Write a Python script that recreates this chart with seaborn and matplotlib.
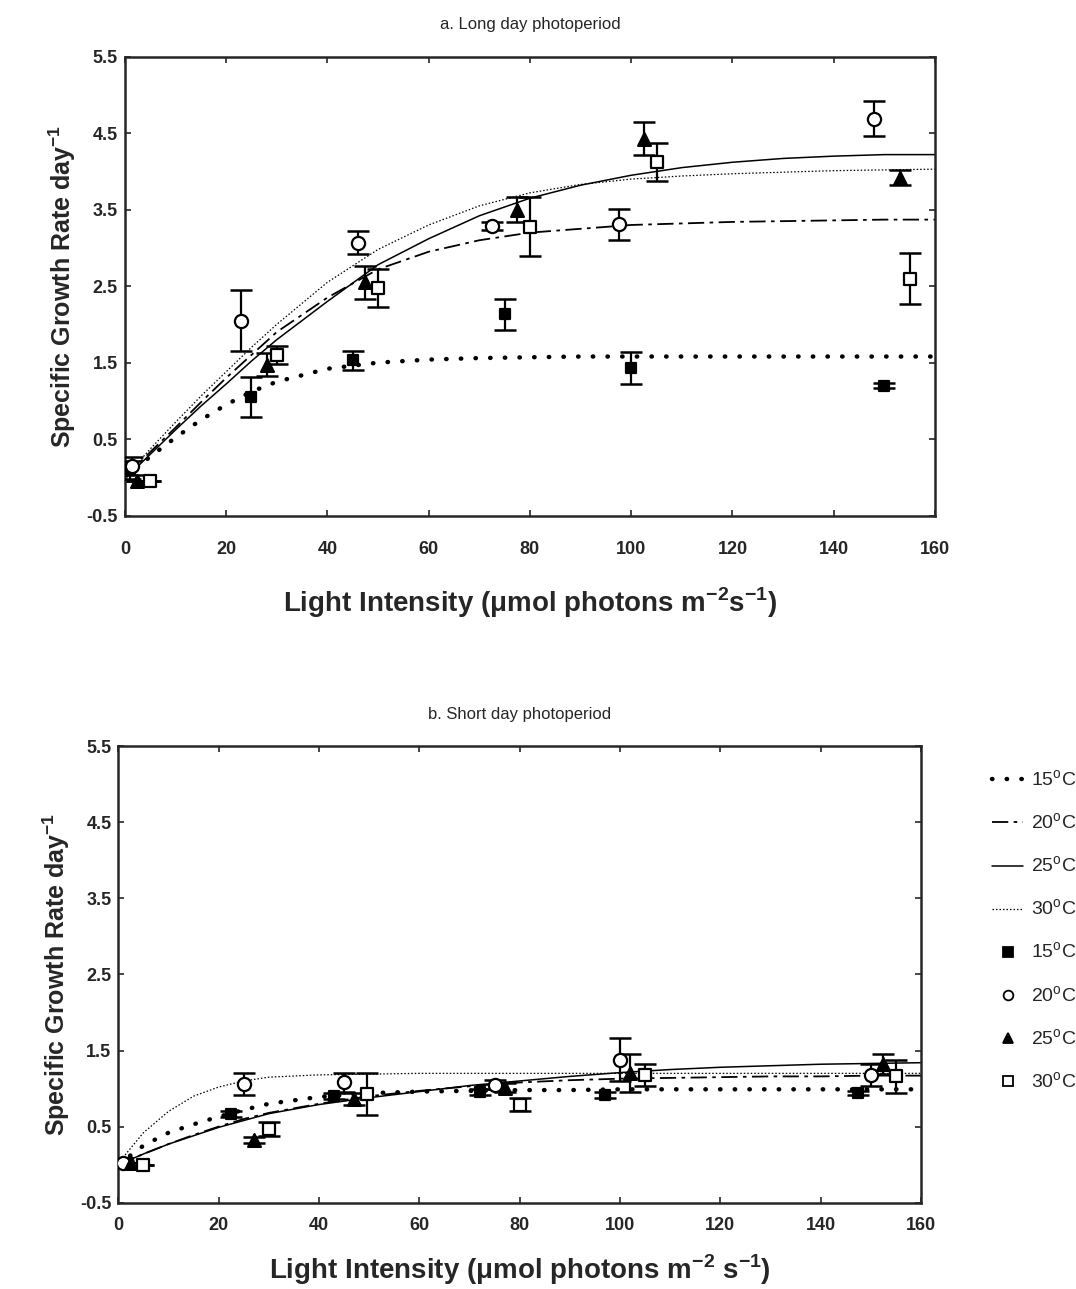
import numpy as np
import pandas as pd
import seaborn as sns
import matplotlib.pyplot as plt
from matplotlib.lines import Line2D

curve_x = [0, 5, 10, 15, 20, 25, 30, 40, 50, 60, 70, 80, 90, 100, 110, 120, 130, 140, 150, 160]

# a. long day - fitted curves
long_fit_15 = [0.0, 0.27, 0.52, 0.75, 0.95, 1.12, 1.25, 1.42, 1.50, 1.54, 1.56, 1.57, 1.58, 1.58, 1.58, 1.58, 1.58, 1.58, 1.58, 1.58]
long_fit_20 = [0.0, 0.33, 0.65, 0.98, 1.30, 1.60, 1.90, 2.35, 2.72, 2.95, 3.10, 3.20, 3.25, 3.30, 3.32, 3.34, 3.35, 3.36, 3.37, 3.37]
long_fit_25 = [-0.02, 0.30, 0.62, 0.93, 1.22, 1.52, 1.80, 2.30, 2.78, 3.12, 3.42, 3.65, 3.82, 3.95, 4.05, 4.12, 4.17, 4.20, 4.22, 4.22]
long_fit_30 = [0.0, 0.37, 0.72, 1.06, 1.38, 1.70, 2.00, 2.55, 2.98, 3.30, 3.55, 3.72, 3.83, 3.90, 3.94, 3.97, 3.99, 4.01, 4.02, 4.03]

# a. long day - measured points (x, mean, error)
long_x_15 = [1, 25, 45, 75, 100, 150]
long_y_15 = [0.10, 1.05, 1.53, 2.13, 1.43, 1.20]
long_e_15 = [0.12, 0.26, 0.12, 0.20, 0.21, 0.03]
long_x_20 = [1.5, 23, 46, 72.5, 97.5, 148]
long_y_20 = [0.15, 2.05, 3.07, 3.29, 3.31, 4.69]
long_e_20 = [0.12, 0.40, 0.15, 0.05, 0.20, 0.23]
long_x_25 = [2.5, 28, 47.5, 77.5, 102.5, 153]
long_y_25 = [-0.05, 1.47, 2.55, 3.50, 4.43, 3.92]
long_e_25 = [0.0, 0.15, 0.22, 0.16, 0.22, 0.10]
long_x_30 = [5, 30, 50, 80, 105, 155]
long_y_30 = [-0.05, 1.60, 2.48, 3.28, 4.12, 2.60]
long_e_30 = [0.0, 0.12, 0.25, 0.38, 0.25, 0.33]

# b. short day - fitted curves
short_fit_15 = [0.0, 0.25, 0.42, 0.53, 0.63, 0.72, 0.80, 0.89, 0.94, 0.96, 0.97, 0.98, 0.98, 0.99, 0.99, 0.99, 0.99, 0.99, 0.99, 0.99]
short_fit_20 = [0.0, 0.14, 0.27, 0.39, 0.50, 0.60, 0.68, 0.80, 0.90, 0.97, 1.03, 1.08, 1.11, 1.13, 1.14, 1.15, 1.16, 1.16, 1.17, 1.17]
short_fit_25 = [0.0, 0.14, 0.27, 0.38, 0.49, 0.58, 0.67, 0.79, 0.88, 0.96, 1.04, 1.10, 1.16, 1.21, 1.25, 1.28, 1.30, 1.32, 1.33, 1.34]
short_fit_30 = [0.02, 0.42, 0.70, 0.90, 1.02, 1.10, 1.15, 1.18, 1.19, 1.20, 1.20, 1.20, 1.20, 1.20, 1.20, 1.20, 1.20, 1.20, 1.20, 1.20]

# b. short day - measured points
short_x_15 = [2, 22.5, 43, 72, 97, 147.5]
short_y_15 = [0.02, 0.66, 0.90, 0.96, 0.92, 0.94]
short_e_15 = [0.0, 0.04, 0.04, 0.04, 0.04, 0.03]
short_x_20 = [1, 25, 45, 75, 100, 150]
short_y_20 = [0.02, 1.06, 1.08, 1.05, 1.38, 1.18]
short_e_20 = [0.0, 0.14, 0.12, 0.06, 0.28, 0.14]
short_x_25 = [2.5, 27, 47, 77, 102, 152.5]
short_y_25 = [0.02, 0.32, 0.86, 1.01, 1.21, 1.32]
short_e_25 = [0.0, 0.04, 0.08, 0.06, 0.25, 0.13]
short_x_30 = [5, 30, 49.5, 80, 105, 155]
short_y_30 = [0.0, 0.47, 0.93, 0.79, 1.18, 1.16]
short_e_30 = [0.0, 0.09, 0.28, 0.09, 0.14, 0.22]

temps = ['15', '20', '25', '30']
yticks = [-0.5, 0.5, 1.5, 2.5, 3.5, 4.5, 5.5]
xticks = [0, 20, 40, 60, 80, 100, 120, 140, 160]

line_styles = {
    '15': dict(linestyle=(0, (0.1, 3.2)), linewidth=3.2, dash_capstyle='round'),
    '20': dict(linestyle=(0, (9, 3, 2, 3)), linewidth=1.3),
    '25': dict(linestyle='-', linewidth=1.1),
    '30': dict(linestyle=(0, (1.2, 1.6)), linewidth=0.9),
}
marker_styles = {
    '15': dict(marker='s', facecolor='black', s=60),
    '20': dict(marker='o', facecolor='white', s=90),
    '25': dict(marker='^', facecolor='black', s=85),
    '30': dict(marker='s', facecolor='white', s=80),
}

sns.set_style('ticks')
plt.rcParams['font.family'] = ['Liberation Sans', 'DejaVu Sans']
plt.rcParams['mathtext.fontset'] = 'custom'
plt.rcParams['mathtext.rm'] = 'Liberation Sans'
plt.rcParams['mathtext.bf'] = 'Liberation Sans:bold'


def draw_panel(ax, fits, pts, title, xlabel, xpad, labelpad):
    for t in temps:
        df = pd.DataFrame({'x': curve_x, 'y': fits[t]})
        sns.lineplot(data=df, x='x', y='y', ax=ax, color='black', **line_styles[t])
    for t in temps:
        px, py, pe = pts[t]
        ax.errorbar(px, py, yerr=pe, fmt='none', ecolor='black', elinewidth=1.6,
                    capsize=8, capthick=1.8, zorder=3)
        ms = marker_styles[t]
        sns.scatterplot(x=px, y=py, ax=ax, marker=ms['marker'], s=ms['s'],
                        color=ms['facecolor'], edgecolor='black', linewidth=1.6, zorder=4)
    ax.set_xlim(0, 160)
    ax.set_ylim(-0.5, 5.5)
    ax.set_xticks(xticks)
    ax.set_yticks(yticks)
    ax.set_xticklabels([str(v) for v in xticks], fontsize=13, fontweight='bold')
    ax.set_yticklabels([f'{v:.1f}' for v in yticks], fontsize=13, fontweight='bold')
    ax.tick_params(direction='in', length=4, width=1.2, top=True, right=True)
    ax.tick_params(axis='x', pad=xpad)
    ax.tick_params(axis='y', pad=5)
    for sp in ax.spines.values():
        sp.set_linewidth(1.8)
        sp.set_visible(True)
    ax.set_title(title, fontsize=12, pad=20)
    ax.set_xlabel(xlabel, fontsize=20, fontweight='bold', labelpad=labelpad)
    ax.set_ylabel(r'Specific Growth Rate day$^{\mathbf{-1}}$', fontsize=18, fontweight='bold', labelpad=6)


fig = plt.figure(figsize=(10.76, 12.89), dpi=100)
ax_a = fig.add_axes([0.116, 0.600, 0.753, 0.356])
ax_b = fig.add_axes([0.110, 0.067, 0.746, 0.354])

draw_panel(ax_a,
           {'15': long_fit_15, '20': long_fit_20, '25': long_fit_25, '30': long_fit_30},
           {'15': (long_x_15, long_y_15, long_e_15), '20': (long_x_20, long_y_20, long_e_20),
            '25': (long_x_25, long_y_25, long_e_25), '30': (long_x_30, long_y_30, long_e_30)},
           'a. Long day photoperiod',
           r'Light Intensity ($\mathbf{\mu}$mol photons m$^{\mathbf{-2}}$s$^{\mathbf{-1}}$)',
           xpad=18, labelpad=20)
draw_panel(ax_b,
           {'15': short_fit_15, '20': short_fit_20, '25': short_fit_25, '30': short_fit_30},
           {'15': (short_x_15, short_y_15, short_e_15), '20': (short_x_20, short_y_20, short_e_20),
            '25': (short_x_25, short_y_25, short_e_25), '30': (short_x_30, short_y_30, short_e_30)},
           'b. Short day photoperiod',
           r'Light Intensity ($\mathbf{\mu}$mol photons m$^{\mathbf{-2}}$ s$^{\mathbf{-1}}$)',
           xpad=10, labelpad=14)

handles = []
labels = []
for t in temps:
    handles.append(Line2D([0], [0], color='black', **line_styles[t]))
    labels.append(t + r'$^{\mathrm{o}}$C')
for t in temps:
    ms = marker_styles[t]
    handles.append(Line2D([0], [0], linestyle='none', marker=ms['marker'], markersize=7,
                          markerfacecolor=ms['facecolor'], markeredgecolor='black', markeredgewidth=1.3))
    labels.append(t + r'$^{\mathrm{o}}$C')
fig.legend(handles, labels, loc='upper left', bbox_to_anchor=(0.922, 0.403), frameon=False,
           fontsize=14, handlelength=1.6, handletextpad=0.4, labelspacing=1.15,
           borderaxespad=0, borderpad=0)

fig.savefig('out.png', dpi=100)
